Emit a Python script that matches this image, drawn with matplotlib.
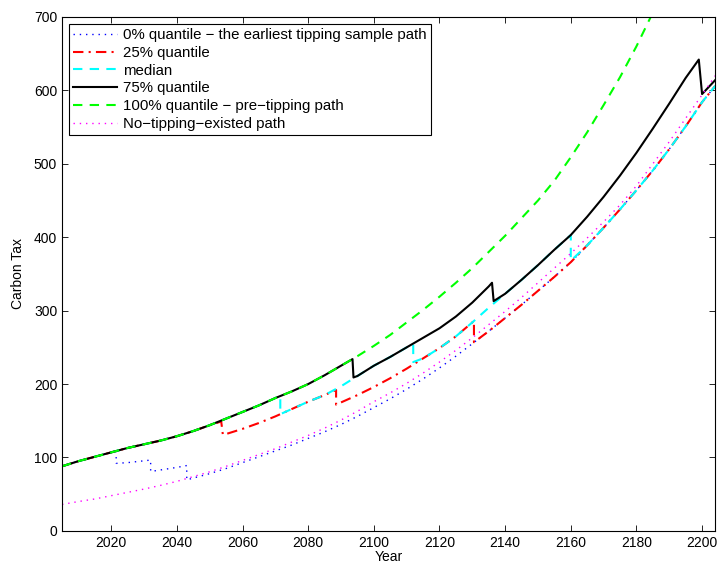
import matplotlib
matplotlib.use('Agg')
import matplotlib.pyplot as plt

plt.rcParams['font.family'] = ['Liberation Sans', 'DejaVu Sans']
plt.rcParams['font.size'] = 10

# 0% quantile - earliest tipping sample path
yr_q0 = [2005, 2010, 2015, 2020, 2021.5, 2021.5, 2025, 2030, 2032, 2032, 2035, 2040, 2043, 2043,
         2045, 2050, 2055, 2060, 2065, 2070, 2075, 2080, 2085, 2090, 2095, 2100, 2105, 2110,
         2115, 2120, 2125, 2130, 2135, 2140, 2145, 2150, 2155, 2160, 2165, 2170, 2175, 2180,
         2185, 2190, 2195, 2200, 2204]
tax_q0 = [88, 95, 101, 107, 109, 92, 93, 95.5, 96.5, 81, 83, 86.5, 89, 69.5,
          72, 78, 85, 93, 101, 109, 117, 126, 135, 145, 156, 168, 180, 193,
          207, 222, 238, 255, 272, 290, 308, 327, 346, 366, 389, 413, 438, 464,
          491, 520, 551, 584, 606]

# 25% quantile
yr_q25 = [2005, 2010, 2015, 2020, 2025, 2030, 2035, 2040, 2045, 2050, 2053.5, 2054,
          2055, 2060, 2065, 2070, 2075, 2080, 2085, 2088.5, 2088.5,
          2090, 2095, 2100, 2105, 2110, 2115, 2120, 2125, 2130, 2130.5, 2130.5,
          2135, 2140, 2145, 2150, 2155, 2160, 2165, 2170, 2175, 2180, 2185, 2190, 2195, 2200, 2204]
tax_q25 = [88, 95, 101, 107, 113, 118, 123, 129, 136, 144, 149, 131,
           132, 139, 147, 156, 166, 176, 185, 192, 172,
           175, 185, 196, 208, 221, 235, 249, 265, 284, 286, 257,
           272, 290, 308, 327, 346, 366, 389, 413, 438, 464, 491, 520, 551, 584, 606]

# median
yr_q50 = [2005, 2010, 2015, 2020, 2025, 2030, 2035, 2040, 2045, 2050, 2055, 2060, 2065, 2070,
          2071.5, 2071.5, 2075, 2080, 2085, 2090, 2095, 2100, 2105, 2110, 2112, 2112,
          2115, 2120, 2125, 2130, 2135, 2140, 2145, 2150, 2155, 2160, 2160,
          2165, 2170, 2175, 2180, 2185, 2190, 2195, 2200, 2204]
tax_q50 = [88, 95, 101, 107, 113, 118, 123, 129, 136, 144, 153, 162, 171, 181,
           184, 159, 166, 176, 185, 197, 211, 225, 237, 250, 255, 230,
           235, 249, 265, 284, 304, 323, 342, 362, 383, 403, 368,
           389, 413, 438, 464, 491, 520, 551, 584, 606]

# 75% quantile
yr_q75 = [2005, 2010, 2015, 2020, 2025, 2030, 2035, 2040, 2045, 2050, 2055, 2060, 2065, 2070,
          2075, 2080, 2085, 2090, 2093.5, 2093.8, 2095, 2100, 2105, 2110, 2115, 2120, 2125,
          2130, 2135, 2136, 2136.5, 2140, 2145, 2150, 2155, 2160, 2165, 2170, 2175, 2180,
          2185, 2190, 2195, 2199, 2200, 2204]
tax_q75 = [88, 95, 101, 107, 113, 118, 123, 129, 136, 144, 153, 162, 171, 181,
           190, 200, 212, 225, 234, 209, 211, 225, 237, 250, 263, 276, 292,
           311, 333, 338, 313, 323, 342, 362, 383, 403, 428, 455, 484, 515,
           548, 582, 617, 642, 595, 614]

# 100% quantile - pre-tipping path
yr_q100 = [2005, 2010, 2015, 2020, 2025, 2030, 2035, 2040, 2045, 2050, 2055, 2060, 2065, 2070,
           2075, 2080, 2085, 2090, 2095, 2100, 2105, 2110, 2115, 2120, 2125, 2130, 2135, 2140,
           2145, 2150, 2155, 2160, 2165, 2170, 2175, 2180, 2185]
tax_q100 = [88, 95, 101, 107, 113, 118, 123, 129, 136, 144, 153, 162, 171, 181,
            190, 200, 212, 225, 238, 252, 267, 284, 301, 319, 338, 358, 380, 402,
            426, 450, 477, 509, 543, 580, 618, 660, 706]

# no-tipping-existed path
yr_none = [2005, 2010, 2015, 2020, 2025, 2030, 2035, 2040, 2045, 2050, 2055, 2060, 2065, 2070,
           2075, 2080, 2085, 2090, 2095, 2100, 2105, 2110, 2115, 2120, 2125, 2130, 2135, 2140,
           2145, 2150, 2155, 2160, 2165, 2170, 2175, 2180, 2185, 2190, 2195, 2200, 2204]
tax_none = [36, 40, 43.5, 48, 52.5, 57, 62, 67.5, 74, 80.5, 88, 96, 104, 112,
            121, 130, 140, 151, 163, 176, 188, 201, 215, 230, 246, 263, 281, 299,
            318, 338, 358, 378, 399, 421, 444, 470, 500, 530, 562, 594, 620]

labels = ['0% quantile \u2212 the earliest tipping sample path',
          '25% quantile',
          'median',
          '75% quantile',
          '100% quantile \u2212 pre\u2212tipping path',
          'No\u2212tipping\u2212existed path']

fig = plt.figure(figsize=(7.17, 5.66), dpi=100)
ax = fig.add_axes([0.0865, 0.062, 0.911, 0.908])

ax.plot(yr_q0, tax_q0, color=(0, 0, 1), lw=1.0, dashes=(1, 3.5))
ax.plot(yr_q25, tax_q25, color=(1, 0, 0), lw=1.5, dashes=(5, 2.5, 1, 2.5))
ax.plot(yr_q50, tax_q50, color=(0, 1, 1), lw=1.5, dashes=(4.5, 3.5))
ax.plot(yr_q75, tax_q75, color='k', lw=1.5)
ax.plot(yr_q100, tax_q100, color=(0, 1, 0), lw=1.5, dashes=(4.5, 3.5))
ax.plot(yr_none, tax_none, color=(1, 0, 1), lw=1.0, dashes=(1, 3.5))

ax.set_xlim(2005, 2204)
ax.set_ylim(0, 700)
ax.set_xticks(range(2020, 2201, 20))
ax.set_yticks(range(0, 701, 100))
ax.tick_params(direction='in', top=True, right=True, length=4, width=0.6)
for s in ax.spines.values():
    s.set_linewidth(0.8)
ax.set_xlabel('Year', labelpad=0.5)
ax.set_ylabel('Carbon Tax', labelpad=6)

leg = ax.legend(labels, loc='upper left', bbox_to_anchor=(0.0, 1.0), borderaxespad=0.45,
                fancybox=False, framealpha=1, edgecolor='k', handlelength=2.9,
                labelspacing=0.25, borderpad=0.3, handletextpad=0.4, fontsize=10.8)
leg.get_frame().set_linewidth(0.8)

plt.savefig('out.png', dpi=100)
